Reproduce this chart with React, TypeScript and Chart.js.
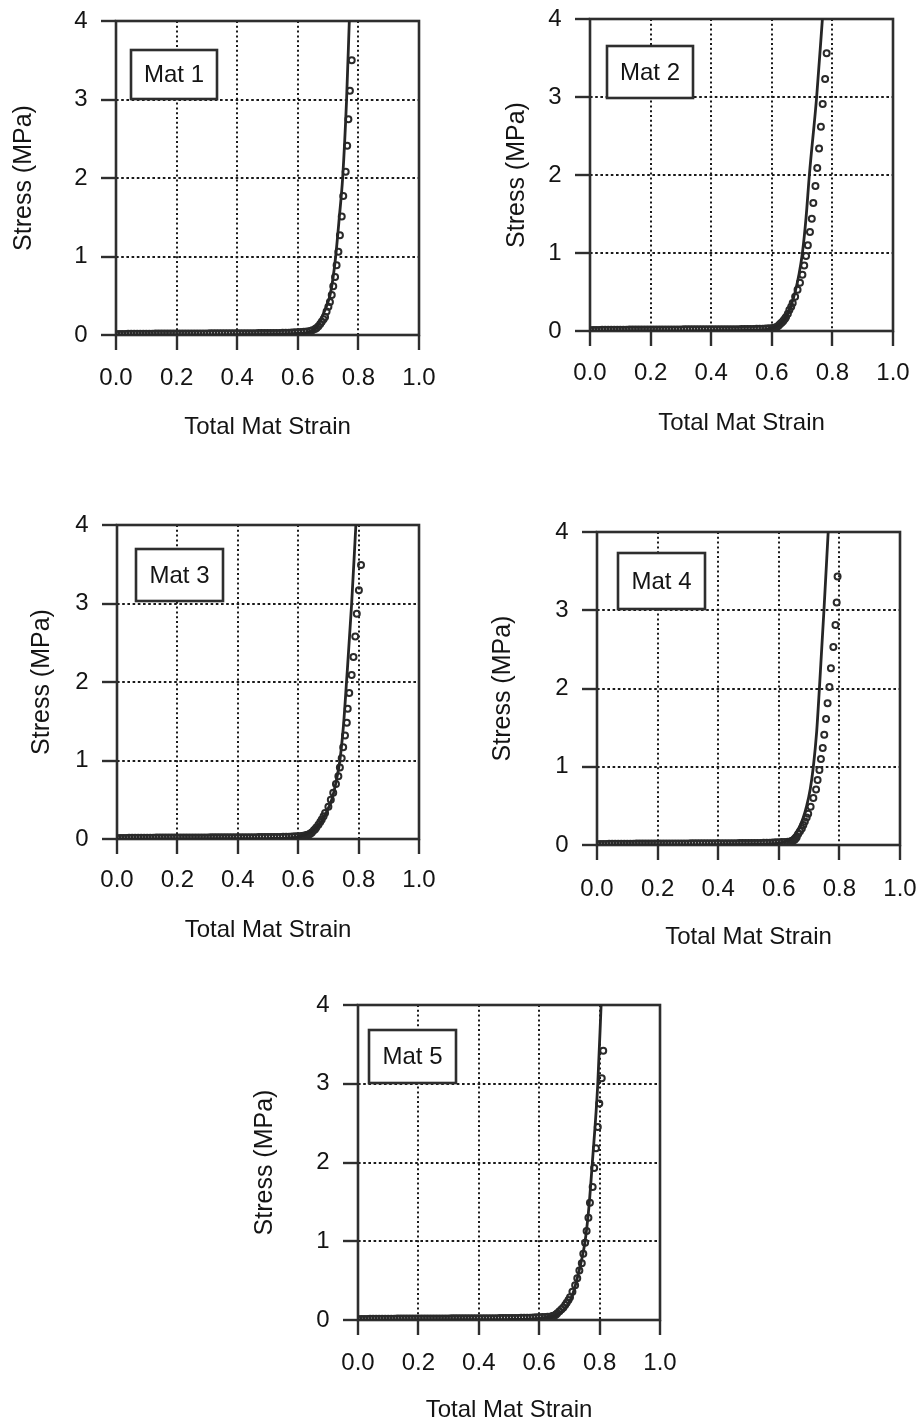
import React, { useEffect, useRef } from 'react';
import { Chart, registerables } from 'chart.js';

Chart.register(...registerables);

// ---------- data ----------
const X_TICK_LABELS = ['0.0', '0.2', '0.4', '0.6', '0.8', '1.0'];
const Y_TICK_LABELS = ['0', '1', '2', '3', '4'];
const MATERIALS = ['Mat 1', 'Mat 2', 'Mat 3', 'Mat 4', 'Mat 5'];
const X_TITLE = 'Total Mat Strain';
const Y_TITLE = 'Stress (MPa)';

// flat (pre-compaction) part of the measured data, shared by all mats
const BASE_TEST_STRAIN = [
  0, 0.01, 0.02, 0.03, 0.04, 0.05, 0.06, 0.07, 0.08, 0.09,
  0.1, 0.11, 0.12, 0.13, 0.14, 0.15, 0.16, 0.17, 0.18, 0.19,
  0.2, 0.21, 0.22, 0.23, 0.24, 0.25, 0.26, 0.27, 0.28, 0.29,
  0.3, 0.31, 0.32, 0.33, 0.34, 0.35, 0.36, 0.37, 0.38, 0.39,
  0.4, 0.41, 0.42, 0.43, 0.44, 0.45, 0.46, 0.47, 0.48, 0.49,
  0.5, 0.51, 0.52, 0.53, 0.54, 0.55, 0.56, 0.57, 0.58, 0.59, 0.6,
];
const BASE_TEST_STRESS = [
  0.01, 0.012, 0.013, 0.014, 0.015, 0.015, 0.016, 0.016, 0.016, 0.017,
  0.017, 0.017, 0.017, 0.018, 0.018, 0.018, 0.018, 0.018, 0.019, 0.019,
  0.019, 0.019, 0.019, 0.019, 0.02, 0.02, 0.02, 0.02, 0.02, 0.02,
  0.02, 0.021, 0.021, 0.021, 0.021, 0.021, 0.021, 0.022, 0.022, 0.022,
  0.022, 0.022, 0.022, 0.023, 0.023, 0.023, 0.023, 0.024, 0.024, 0.024,
  0.025, 0.025, 0.026, 0.026, 0.027, 0.028, 0.029, 0.03, 0.032, 0.034, 0.036,
];

// measured points (circles), rising part
const MAT1_TEST_STRAIN = [0.61, 0.62, 0.63, 0.64, 0.648, 0.657, 0.662, 0.668, 0.674, 0.679, 0.685, 0.69, 0.695, 0.701, 0.706, 0.712, 0.717, 0.723, 0.728, 0.734, 0.739, 0.745, 0.75, 0.758, 0.763, 0.767, 0.772, 0.778];
const MAT1_TEST_STRESS = [0.038, 0.04, 0.045, 0.05, 0.06, 0.075, 0.09, 0.11, 0.14, 0.17, 0.2, 0.23, 0.3, 0.36, 0.42, 0.51, 0.62, 0.74, 0.89, 1.06, 1.27, 1.51, 1.77, 2.08, 2.41, 2.75, 3.11, 3.5];

const MAT2_TEST_STRAIN = [0.605, 0.611, 0.616, 0.621, 0.625, 0.629, 0.633, 0.637, 0.64, 0.644, 0.647, 0.653, 0.658, 0.664, 0.669, 0.677, 0.685, 0.693, 0.701, 0.707, 0.713, 0.719, 0.726, 0.732, 0.737, 0.744, 0.75, 0.756, 0.762, 0.768, 0.776, 0.781];
const MAT2_TEST_STRESS = [0.04, 0.045, 0.05, 0.065, 0.08, 0.095, 0.11, 0.125, 0.14, 0.16, 0.18, 0.22, 0.27, 0.31, 0.36, 0.44, 0.53, 0.62, 0.72, 0.84, 0.96, 1.1, 1.27, 1.44, 1.64, 1.86, 2.09, 2.34, 2.62, 2.91, 3.23, 3.56];

const MAT3_TEST_STRAIN = [0.61, 0.617, 0.623, 0.628, 0.632, 0.636, 0.639, 0.643, 0.646, 0.652, 0.656, 0.66, 0.667, 0.673, 0.678, 0.684, 0.689, 0.7, 0.708, 0.716, 0.725, 0.733, 0.738, 0.744, 0.749, 0.755, 0.761, 0.764, 0.769, 0.777, 0.783, 0.789, 0.794, 0.801, 0.808];
const MAT3_TEST_STRESS = [0.038, 0.04, 0.045, 0.05, 0.055, 0.06, 0.065, 0.075, 0.085, 0.11, 0.125, 0.145, 0.18, 0.215, 0.25, 0.29, 0.33, 0.41, 0.5, 0.59, 0.7, 0.8, 0.91, 1.03, 1.17, 1.32, 1.48, 1.66, 1.86, 2.09, 2.32, 2.58, 2.87, 3.17, 3.49];

const MAT4_TEST_STRAIN = [0.61, 0.62, 0.63, 0.637, 0.641, 0.645, 0.649, 0.653, 0.656, 0.659, 0.664, 0.67, 0.676, 0.681, 0.686, 0.692, 0.697, 0.705, 0.714, 0.723, 0.728, 0.734, 0.739, 0.745, 0.75, 0.756, 0.761, 0.767, 0.772, 0.78, 0.787, 0.791, 0.794];
const MAT4_TEST_STRESS = [0.037, 0.038, 0.04, 0.042, 0.048, 0.055, 0.062, 0.07, 0.085, 0.1, 0.14, 0.175, 0.21, 0.255, 0.3, 0.35, 0.4, 0.49, 0.6, 0.71, 0.83, 0.96, 1.1, 1.24, 1.41, 1.61, 1.81, 2.02, 2.26, 2.53, 2.81, 3.1, 3.43];

const MAT5_TEST_STRAIN = [0.61, 0.62, 0.628, 0.636, 0.641, 0.645, 0.649, 0.652, 0.656, 0.66, 0.667, 0.674, 0.68, 0.686, 0.691, 0.697, 0.702, 0.71, 0.719, 0.726, 0.733, 0.741, 0.746, 0.752, 0.757, 0.763, 0.768, 0.777, 0.782, 0.788, 0.794, 0.799, 0.807, 0.812];
const MAT5_TEST_STRESS = [0.037, 0.038, 0.04, 0.042, 0.045, 0.05, 0.055, 0.06, 0.07, 0.085, 0.11, 0.135, 0.16, 0.19, 0.22, 0.255, 0.29, 0.36, 0.44, 0.53, 0.63, 0.72, 0.84, 0.98, 1.13, 1.3, 1.49, 1.69, 1.93, 2.18, 2.45, 2.75, 3.07, 3.42];

// model curves (solid lines)
const MAT1_MODEL_STRAIN = [0, 0.2, 0.4, 0.5, 0.56, 0.6, 0.629, 0.662, 0.682, 0.695, 0.706, 0.716, 0.725, 0.737, 0.748, 0.761, 0.77];
const MAT1_MODEL_STRESS = [0, 0.001, 0.003, 0.006, 0.012, 0.02, 0.03, 0.1, 0.25, 0.37, 0.5, 0.72, 1.0, 1.5, 2.0, 3.0, 4.0];

const MAT2_MODEL_STRAIN = [0, 0.2, 0.4, 0.5, 0.56, 0.59, 0.611, 0.63, 0.649, 0.664, 0.677, 0.69, 0.701, 0.713, 0.724, 0.748, 0.767];
const MAT2_MODEL_STRESS = [0, 0.001, 0.003, 0.006, 0.012, 0.025, 0.05, 0.1, 0.2, 0.33, 0.5, 0.73, 1.0, 1.45, 2.0, 3.0, 4.0];

const MAT3_MODEL_STRAIN = [0, 0.2, 0.4, 0.5, 0.56, 0.595, 0.617, 0.645, 0.672, 0.692, 0.711, 0.725, 0.738, 0.75, 0.76, 0.777, 0.791];
const MAT3_MODEL_STRESS = [0, 0.001, 0.003, 0.006, 0.012, 0.025, 0.05, 0.1, 0.2, 0.33, 0.5, 0.72, 1.0, 1.45, 2.0, 3.0, 4.0];

const MAT4_MODEL_STRAIN = [0, 0.2, 0.4, 0.5, 0.56, 0.6, 0.626, 0.645, 0.664, 0.679, 0.692, 0.704, 0.714, 0.725, 0.734, 0.749, 0.763];
const MAT4_MODEL_STRESS = [0, 0.001, 0.003, 0.006, 0.012, 0.025, 0.05, 0.1, 0.2, 0.33, 0.5, 0.72, 1.0, 1.45, 2.0, 3.0, 4.0];

const MAT5_MODEL_STRAIN = [0, 0.2, 0.4, 0.5, 0.56, 0.61, 0.652, 0.675, 0.696, 0.711, 0.724, 0.738, 0.752, 0.765, 0.776, 0.794, 0.805];
const MAT5_MODEL_STRESS = [0, 0.001, 0.003, 0.006, 0.012, 0.025, 0.05, 0.1, 0.2, 0.33, 0.5, 0.72, 1.0, 1.45, 2.0, 3.0, 4.0];

// ---------- layout / style ----------
const FONT = "'Liberation Sans', Arial, Helvetica, sans-serif";
const INK = '#141414';
const FRAME = '#2e2e2e';
const TICK_SIZE = 24;
const XTITLE_SIZE = 24;
const YTITLE_SIZE = 25;
const TICK_LEN = 15;

type Box = { dx: number; dy: number; w: number; h: number };
type PanelDef = {
  name: string;
  testX: number[]; testY: number[];
  modelX: number[]; modelY: number[];
  canvas: { left: number; top: number; width: number; height: number };
  plot: { left: number; top: number; right: number; bottom: number };
  yTitleX: number; xTitleY: number; xTickY: number;
  box: Box;
};

const PANELS: PanelDef[] = [
  {
    name: MATERIALS[0], testX: MAT1_TEST_STRAIN, testY: MAT1_TEST_STRESS, modelX: MAT1_MODEL_STRAIN, modelY: MAT1_MODEL_STRESS,
    canvas: { left: 0, top: 0, width: 460, height: 460 },
    plot: { left: 116, top: 21, right: 419, bottom: 335 },
    yTitleX: 24, xTitleY: 427, xTickY: 378, box: { dx: 15, dy: 29, w: 86, h: 49 },
  },
  {
    name: MATERIALS[1], testX: MAT2_TEST_STRAIN, testY: MAT2_TEST_STRESS, modelX: MAT2_MODEL_STRAIN, modelY: MAT2_MODEL_STRESS,
    canvas: { left: 460, top: 0, width: 463, height: 460 },
    plot: { left: 590, top: 19, right: 893, bottom: 331 },
    yTitleX: 517, xTitleY: 423, xTickY: 373, box: { dx: 17, dy: 27, w: 86, h: 52 },
  },
  {
    name: MATERIALS[2], testX: MAT3_TEST_STRAIN, testY: MAT3_TEST_STRESS, modelX: MAT3_MODEL_STRAIN, modelY: MAT3_MODEL_STRESS,
    canvas: { left: 0, top: 470, width: 460, height: 490 },
    plot: { left: 117, top: 525, right: 419, bottom: 839 },
    yTitleX: 42, xTitleY: 930, xTickY: 880, box: { dx: 19, dy: 24, w: 87, h: 52 },
  },
  {
    name: MATERIALS[3], testX: MAT4_TEST_STRAIN, testY: MAT4_TEST_STRESS, modelX: MAT4_MODEL_STRAIN, modelY: MAT4_MODEL_STRESS,
    canvas: { left: 460, top: 470, width: 463, height: 490 },
    plot: { left: 597, top: 532, right: 900, bottom: 845 },
    yTitleX: 503, xTitleY: 937, xTickY: 889, box: { dx: 21, dy: 21, w: 87, h: 56 },
  },
  {
    name: MATERIALS[4], testX: MAT5_TEST_STRAIN, testY: MAT5_TEST_STRESS, modelX: MAT5_MODEL_STRAIN, modelY: MAT5_MODEL_STRESS,
    canvas: { left: 230, top: 970, width: 460, height: 458 },
    plot: { left: 358, top: 1005, right: 660, bottom: 1320 },
    yTitleX: 265, xTitleY: 1410, xTickY: 1363, box: { dx: 11, dy: 25, w: 87, h: 53 },
  },
];

const framePlugin = {
  id: 'frameAndLabel',
  beforeDatasetsDraw(chart: any) {
    const { ctx, chartArea: a } = chart;
    ctx.save();
    ctx.strokeStyle = FRAME;
    ctx.lineWidth = 2.6;
    ctx.setLineDash([]);
    ctx.strokeRect(a.left, a.top, a.right - a.left, a.bottom - a.top);
    ctx.restore();
  },
  afterDatasetsDraw(chart: any, _args: any, opts: any) {
    const { ctx, chartArea: a } = chart;
    const b: Box = opts.box;
    const x = a.left + b.dx;
    const y = a.top + b.dy;
    ctx.save();
    ctx.fillStyle = '#ffffff';
    ctx.fillRect(x, y, b.w, b.h);
    ctx.strokeStyle = FRAME;
    ctx.lineWidth = 2.6;
    ctx.strokeRect(x, y, b.w, b.h);
    ctx.fillStyle = INK;
    ctx.font = `${TICK_SIZE}px ${FONT}`;
    ctx.textAlign = 'center';
    ctx.textBaseline = 'middle';
    ctx.fillText(opts.text, x + b.w / 2, y + b.h / 2 + 1);
    ctx.restore();
  },
};

function zip(xs: number[], ys: number[]) {
  return xs.map((x, i) => ({ x, y: ys[i] }));
}

function Panel({ p }: { p: PanelDef }) {
  const ref = useRef<HTMLCanvasElement | null>(null);
  useEffect(() => {
    if (!ref.current) return;
    const c = p.canvas;
    const canvasRight = c.left + c.width;
    const canvasBottom = c.top + c.height;
    const noPad = (s: any) => {
      s.paddingTop = 0;
      s.paddingBottom = 0;
      s.paddingLeft = 0;
      s.paddingRight = 0;
    };
    const chart = new Chart(ref.current, {
      type: 'scatter',
      data: {
        datasets: [
          {
            label: p.name + ' model',
            data: zip(p.modelX, p.modelY),
            showLine: true,
            pointRadius: 0,
            borderColor: '#262626',
            borderWidth: 2.8,
            cubicInterpolationMode: 'monotone',
            fill: false,
          },
          {
            label: p.name + ' measured',
            data: [...zip(BASE_TEST_STRAIN, BASE_TEST_STRESS), ...zip(p.testX, p.testY)],
            pointStyle: 'circle',
            pointRadius: 3,
            pointBorderWidth: 2,
            borderColor: '#2a2a2a',
            backgroundColor: 'rgba(0,0,0,0)',
            showLine: false,
          },
        ],
      },
      options: {
        animation: false,
        responsive: false,
        maintainAspectRatio: false,
        events: [],
        layout: {
          padding: {
            left: 0,
            top: p.plot.top - c.top,
            right: canvasRight - p.plot.right,
            bottom: 0,
          },
        },
        plugins: {
          legend: { display: false },
          tooltip: { enabled: false },
          frameAndLabel: { text: p.name, box: p.box },
        } as any,
        scales: {
          x: {
            type: 'linear',
            position: 'bottom',
            min: 0,
            max: 1,
            afterFit: (s: any) => { s.height = canvasBottom - p.plot.bottom; noPad(s); },
            ticks: {
              stepSize: 0.2,
              autoSkip: false,
              maxRotation: 0,
              color: INK,
              font: { family: FONT, size: TICK_SIZE },
              padding: p.xTickY - p.plot.bottom - TICK_LEN - (TICK_SIZE * 1.2) / 2,
              callback: (_v: any, i: number) => X_TICK_LABELS[i],
            },
            grid: {
              color: '#1a1a1a',
              lineWidth: 2,
              drawTicks: true,
              tickLength: TICK_LEN,
              tickColor: FRAME,
              tickWidth: 2.4,
            },
            border: { display: false, dash: [2, 2.8] },
            title: {
              display: true,
              text: X_TITLE,
              color: INK,
              font: { family: FONT, size: XTITLE_SIZE },
              padding: { top: 0, bottom: canvasBottom - p.xTitleY - (XTITLE_SIZE * 1.2) / 2 },
            },
          },
          y: {
            type: 'linear',
            position: 'left',
            min: 0,
            max: 4,
            afterFit: (s: any) => { s.width = p.plot.left - c.left; noPad(s); },
            ticks: {
              stepSize: 1,
              autoSkip: false,
              color: INK,
              font: { family: FONT, size: TICK_SIZE },
              padding: 13.5,
              callback: (_v: any, i: number) => Y_TICK_LABELS[i],
            },
            grid: {
              color: '#1a1a1a',
              lineWidth: 2,
              drawTicks: true,
              tickLength: TICK_LEN,
              tickColor: FRAME,
              tickWidth: 2.4,
            },
            border: { display: false, dash: [2.6, 2.6] },
            title: {
              display: true,
              text: Y_TITLE,
              color: INK,
              font: { family: FONT, size: YTITLE_SIZE },
              padding: { top: p.yTitleX - c.left - (YTITLE_SIZE * 1.2) / 2, bottom: 0 },
            },
          },
        },
      },
      plugins: [framePlugin as any],
    } as any);
    return () => chart.destroy();
  }, [p]);
  const c = p.canvas;
  return (
    <canvas
      ref={ref}
      width={c.width}
      height={c.height}
      style={{ position: 'absolute', left: c.left, top: c.top, width: c.width, height: c.height }}
    />
  );
}

export default function App() {
  return (
    <div style={{ position: 'absolute', left: 0, top: 0, width: 923, height: 1428, background: '#ffffff', overflow: 'hidden' }}>
      {PANELS.map((p) => (
        <Panel key={p.name} p={p} />
      ))}
    </div>
  );
}
